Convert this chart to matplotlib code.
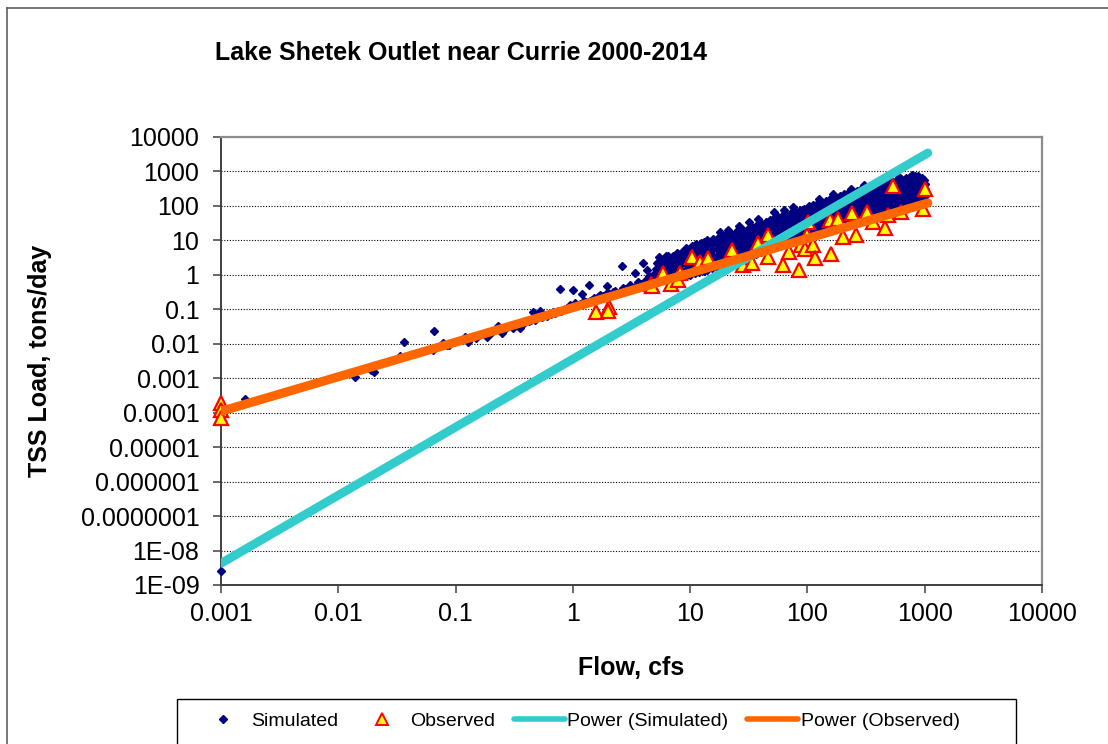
import numpy as np
import matplotlib
matplotlib.use("Agg")
from matplotlib import pyplot as plt
from matplotlib.lines import Line2D
from matplotlib.patches import Rectangle
from matplotlib.ticker import FixedLocator, FixedFormatter, NullLocator

plt.rcParams['font.family'] = ['Liberation Sans', 'DejaVu Sans']

title = "Lake Shetek Outlet near Currie 2000-2014"

# (flow cfs, TSS load tons/day)
simulated = [
    (0.001, 2.5e-9), (0.0016, 2.5e-4), (0.0139, 1.1e-3), (0.019, 1.7e-3), (0.020, 1.5e-3),
    (0.0336, 4.4e-3), (0.0365, 0.011), (0.064, 6.6e-3), (0.066, 0.024), (0.078, 0.0107),
    (0.084, 0.0095), (0.088, 0.0092), (0.12, 0.016), (0.128, 0.0113), (0.15, 0.015),
    (0.184, 0.016), (0.20, 0.021), (0.229, 0.032), (0.247, 0.0199), (0.26, 0.025),
    (0.31, 0.028), (0.33, 0.034), (0.355, 0.028), (0.36, 0.036), (0.38, 0.04),
    (0.42, 0.045), (0.44, 0.05), (0.46, 0.085), (0.48, 0.05), (0.52, 0.09),
    (0.55, 0.06), (0.57, 0.068), (0.60, 0.065), (0.62, 0.072), (0.65, 0.075),
    (0.68, 0.085), (0.70, 0.08), (0.75, 0.088), (0.78, 0.38), (0.80, 0.09),
    (0.85, 0.10), (0.90, 0.11), (0.95, 0.13), (1.0, 0.36), (1.0, 0.12),
    (1.05, 0.15), (1.1, 0.13), (1.15, 0.14), (1.2, 0.28), (1.25, 0.17),
    (1.3, 0.16), (1.37, 0.51), (1.4, 0.18), (1.45, 0.19), (1.5, 0.22),
    (1.6, 0.20), (1.65, 0.23), (1.7, 0.26), (1.8, 0.24), (1.9, 0.28),
    (1.94, 0.46), (2.0, 0.30), (2.1, 0.27), (2.2, 0.32), (2.3, 0.35),
    (2.4, 0.30), (2.5, 0.32), (2.6, 1.8), (2.7, 0.42), (2.8, 0.40),
    (2.9, 0.38), (3.1, 0.50), (3.2, 0.42), (3.4, 1.1), (3.4, 0.45),
    (3.6, 0.60), (3.8, 0.55), (3.94, 2.16), (4.0, 0.55), (4.2, 0.70),
    (4.3, 1.37), (4.4, 0.75), (4.5, 0.90), (4.6, 0.65), (4.8, 1.0),
    (5.0, 0.7), (5.0, 1.0), (5.1, 1.5), (5.2, 2.2),
    (5.5, 0.75), (5.5, 1.1), (5.5, 1.65), (5.6, 2.4), (5.4, 3.2),
    (5.9, 2.07), (6.0, 0.8), (6.0, 1.2), (6.1, 1.8), (6.0, 2.6), (6.2, 3.5),
    (6.5, 0.8), (6.5, 1.15), (6.6, 1.7), (6.4, 2.5), (6.5, 3.6),
    (7.0, 0.8), (7.0, 1.1), (7.1, 1.6), (6.9, 2.4), (7.2, 3.6), (7.7, 4.2),
    (7.7, 0.85), (7.7, 1.2), (7.8, 1.8), (7.6, 2.7), (7.7, 4.0),
    (8.5, 0.9), (8.5, 1.3), (8.4, 2.0), (8.6, 3.0), (8.5, 4.5),
    (9.2, 0.95), (9.2, 1.4), (9.3, 2.1), (9.1, 3.1), (9.2, 4.7), (9.3, 6.0),
    (10, 1.0), (10, 1.5), (10.2, 2.2), (9.8, 3.3), (10, 5.0), (10.3, 7.0),
    (11, 1.1), (11, 1.65), (11.1, 2.45), (10.9, 3.6), (11, 5.5), (11.2, 7.8),
    (11.7, 6.9), (12, 1.2), (12, 1.8), (12.2, 2.7), (11.8, 4.0), (12, 6.0), (12.3, 8.5),
    (13, 1.3), (13, 1.95), (13.2, 2.9), (12.8, 4.4), (13, 6.5), (13.2, 9.2),
    (14, 1.4), (14, 2.1), (14.2, 3.2), (13.8, 4.8), (14.3, 7.9), (14, 10),
    (15.5, 1.55), (15.5, 2.35), (15.7, 3.5), (15.3, 5.2), (15.5, 7.7), (15.8, 11),
    (17, 1.7), (17, 2.6), (17.2, 3.8), (16.8, 5.6), (17, 8.5), (17.3, 12),
    (18, 17), (18.5, 1.85), (18.5, 2.8), (18.8, 4.1), (18.2, 6.2), (18.5, 9.2), (18.8, 13),
    (20, 2.0), (20, 3.0), (20.3, 4.5), (19.7, 6.8), (20, 10), (20.4, 14),
    (21, 20), (22, 2.25), (22, 3.3), (22.3, 5.0), (21.7, 7.4), (22, 11), (22.4, 15.5),
    (24, 2.5), (24, 3.7), (24.3, 5.5), (23.7, 8.0), (24, 12), (24.5, 17),
    (26, 26), (26, 2.75), (26, 4.0), (26.4, 6.0), (25.6, 8.7), (26, 13), (26.5, 18.5),
    (28, 3.0), (28, 4.4), (28.4, 6.5), (27.6, 9.5), (28, 14), (28.5, 20),
    (30.5, 3.3), (30.5, 4.85), (31, 7.1), (30, 10.2), (30.5, 15.5), (31, 22),
    (32, 34), (33, 3.6), (33, 5.3), (33.5, 7.8), (32.5, 11), (33, 17), (33.6, 24),
    (36.5, 4.0), (36.5, 5.9), (37, 8.6), (36, 12.5), (36.5, 19), (37.2, 28),
    (38, 42), (40, 4.5), (40, 6.5), (40.5, 9.5), (39.5, 14), (40, 21), (40.6, 30),
    (43.5, 5.0), (43.5, 7.2), (44, 10.7), (43, 15.5), (43.5, 23.5), (44.2, 35),
    (47, 5.5), (47, 8.0), (47.6, 12), (46.4, 17), (47, 26), (47.7, 38),
    (51, 6.1), (51, 9.0), (51.7, 13), (50.3, 19), (51, 28.5), (51.8, 44),
    (52, 66), (55, 6.8), (55, 10), (55.7, 14), (54.3, 21), (55, 31), (55.8, 48),
    (60, 7.6), (60, 11), (60.8, 16), (59.2, 23.5), (60, 34.5), (61, 52),
    (63, 78), (65, 8.5), (65, 12), (65.8, 18), (64.2, 26), (65, 38), (66, 56),
    (71, 9.2), (71, 13.5), (72, 20), (70, 29), (71, 42.5), (72, 63),
    (75, 92), (78, 10), (78, 15), (79, 22), (77, 32), (78, 47), (79, 68),
    (85, 11.5), (85, 17), (86, 24.5), (84, 35.5), (85, 52), (86, 77),
    (92, 13), (92, 19), (93, 27), (91, 39), (92, 57), (93, 82),
    (101, 14.5), (101, 21), (102, 30), (100, 43.5), (101, 63.5), (103, 97),
    (110, 16), (110, 23), (111, 33), (109, 48), (110, 70), (112, 105),
    (120, 18), (120, 25.5), (122, 36.5), (118, 53), (120, 77.5), (122, 118),
    (125, 160), (130, 20), (130, 28), (132, 40), (128, 58), (130, 85), (132, 125),
    (142, 22.5), (142, 31.5), (144, 45), (140, 65), (142, 95), (144, 142),
    (155, 25), (155, 35), (157, 50), (153, 72), (155, 105), (157, 155),
    (165, 215), (170, 27.5), (170, 39), (172, 55), (168, 80), (170, 118), (173, 178),
    (185, 30), (185, 43), (187, 60), (183, 88), (185, 130), (188, 190),
    (202, 34), (202, 48), (205, 67.5), (199, 96), (202, 142), (205, 215),
    (220, 38), (220, 53), (223, 75), (217, 105), (220, 155), (223, 230),
    (235, 310), (240, 41.5), (240, 58), (243, 82), (237, 117), (240, 172), (244, 255),
    (260, 45), (260, 63), (263, 90), (257, 130), (260, 190), (264, 270),
    (285, 50), (285, 70), (289, 100), (281, 142), (285, 210), (289, 300),
    (305, 400), (310, 55), (310, 78), (314, 110), (306, 155), (310, 230), (314, 320),
    (340, 60), (340, 86), (345, 120), (335, 170), (340, 250), (345, 360),
    (370, 65), (370, 95), (375, 130), (365, 185), (370, 270), (375, 390),
    (405, 72), (405, 105), (411, 145), (399, 202), (405, 295), (411, 435),
    (440, 80), (440, 115), (446, 160), (434, 220), (440, 320), (446, 450),
    (460, 560), (480, 87), (480, 125), (487, 175), (473, 240), (480, 350), (487, 495),
    (520, 95), (520, 135), (527, 190), (513, 260), (520, 380), (527, 520),
    (570, 102), (570, 147), (578, 205), (562, 285), (570, 410), (578, 570),
    (600, 690), (620, 110), (620, 160), (628, 220), (612, 310), (620, 440), (628, 600),
    (680, 120), (680, 172), (690, 240), (670, 335), (680, 475), (690, 650),
    (740, 130), (740, 185), (750, 260), (730, 360), (740, 510), (750, 680),
    (780, 790), (810, 140), (810, 197), (820, 280), (800, 390), (810, 545), (820, 740),
    (880, 150), (880, 210), (890, 300), (870, 420), (880, 580), (870, 730),
    (940, 175), (940, 255), (950, 365), (930, 490), (940, 650),
    (1000, 200), (1000, 300), (1010, 430), (990, 560),
]

observed = [
    (0.001, 1.9e-4), (0.001, 1.2e-4), (0.001, 7e-5),
    (1.57, 0.085), (2.04, 0.114), (2.0, 0.09),
    (4.67, 0.54), (4.7, 0.46), (5.9, 1.1), (6.84, 0.54), (7.9, 0.71), (8.2, 1.1),
    (10.3, 3.36), (12.2, 2.3), (14.1, 3.0),
    (22.9, 5.3), (28.2, 1.93), (33.5, 2.2), (37.7, 8.2),
    (45.7, 14.3), (45.7, 3.36), (62.4, 1.93), (69, 4.7), (84, 1.35), (89, 7.35),
    (95, 5.8), (99, 14.3), (101, 35), (112, 7.35), (117, 3.0),
    (157, 39), (160, 4.1), (183, 43), (200, 12.8), (241, 61), (260, 14.3),
    (324, 68), (365, 35), (460, 22.4), (490, 54), (540, 380), (630, 68),
    (970, 79), (1000, 300),
]

# power trendlines, load = a * flow ** b
sim_power = (0.0036, 1.976)
obs_power = (0.112, 1.003)
trend_range = (0.001, 1064)

x_ticks = [0.001, 0.01, 0.1, 1, 10, 100, 1000, 10000]
x_tick_labels = ["0.001", "0.01", "0.1", "1", "10", "100", "1000", "10000"]
y_ticks = [1e-9, 1e-8, 1e-7, 1e-6, 1e-5, 1e-4, 1e-3, 1e-2, 1e-1, 1, 10, 100, 1000, 10000]
y_tick_labels = ["1E-09", "1E-08", "0.0000001", "0.000001", "0.00001", "0.0001",
                 "0.001", "0.01", "0.1", "1", "10", "100", "1000", "10000"]

navy = "#000080"
cyan = "#33CCCC"
orange = "#FF6600"

W, H = 1108, 744
fig = plt.figure(figsize=(W / 100, H / 100), dpi=100)
ax = fig.add_axes([221 / W, 1 - 585 / H, (1042 - 221) / W, (585 - 137) / H])

sx, sy = zip(*simulated)
ax.plot(sx, sy, ls="none", marker="D", ms=4.3, color=navy, mec=navy, clip_on=False, zorder=3)
ox, oy = zip(*observed)
ax.plot(ox, oy, ls="none", marker="^", ms=10, mfc="#FFFF00", mec="#FF0000", mew=1.6,
        clip_on=False, zorder=4)

xs = np.geomspace(trend_range[0], trend_range[1], 200)
ax.plot(xs, sim_power[0] * xs ** sim_power[1], color=cyan, lw=6.3, solid_capstyle="round", zorder=5)
ax.plot(xs, obs_power[0] * xs ** obs_power[1], color=orange, lw=6.5, solid_capstyle="round", zorder=6)

ax.set_xscale("log")
ax.set_yscale("log")
ax.set_xlim(1e-3, 1e4)
ax.set_ylim(1e-9, 1e4)
ax.xaxis.set_major_locator(FixedLocator(x_ticks))
ax.xaxis.set_major_formatter(FixedFormatter(x_tick_labels))
ax.yaxis.set_major_locator(FixedLocator(y_ticks))
ax.yaxis.set_major_formatter(FixedFormatter(y_tick_labels))
ax.xaxis.set_minor_locator(NullLocator())
ax.yaxis.set_minor_locator(NullLocator())
ax.tick_params(axis="both", which="major", direction="out", length=5.5, width=1.1,
               color="#404040", labelsize=18, labelcolor="black")
ax.tick_params(axis="x", pad=7)
ax.tick_params(axis="y", pad=10)

ax.yaxis.grid(True, color="black", lw=0.8, ls=(0, (1, 1.5)))
ax.set_axisbelow(True)

for side in ("left", "bottom"):
    ax.spines[side].set_color("#404040")
    ax.spines[side].set_linewidth(1.4)
for side in ("top", "right"):
    ax.spines[side].set_color("#8C8C8C")
    ax.spines[side].set_linewidth(1.6)

fig.text(215 / W, 1 - 53 / H, title, fontsize=18, fontweight="bold", ha="left", va="center")
fig.text(631.5 / W, 1 - 668 / H, "Flow, cfs", fontsize=18, fontweight="bold", ha="center", va="center")
fig.text(40 / W, 1 - 361 / H, "TSS Load, tons/day", fontsize=18, fontweight="bold",
         rotation=90, ha="center", va="center")

# outer chart border
fig.add_artist(Line2D([7 / W, 7 / W], [-0.01, 1 - 8 / H], transform=fig.transFigure, color="#606060", lw=1.2))
fig.add_artist(Line2D([7 / W, 1.01], [1 - 8 / H, 1 - 8 / H], transform=fig.transFigure, color="#606060", lw=1.2))

# legend box
fig.add_artist(Rectangle((177 / W, -0.01), (1016 - 177) / W, 0.01 + 1 - 699 / H,
                         transform=fig.transFigure, fill=False, ec="black", lw=1.0))
handles = [
    Line2D([], [], ls="none", marker="D", ms=3.6, color=navy),
    Line2D([], [], ls="none", marker="^", ms=8, mfc="#FFFF00", mec="#FF0000", mew=1.4),
    Line2D([], [], color=cyan, lw=4, solid_capstyle="round"),
    Line2D([], [], color=orange, lw=4, solid_capstyle="round"),
]
labels = ["Simulated", "Observed", "Power (Simulated)", "Power (Observed)"]
fig.legend(handles, labels, loc="center left", bbox_to_anchor=(198 / W, 1 - 721 / H), ncol=4,
           frameon=False, fontsize=14, handlelength=2.6, handletextpad=0.15, columnspacing=0.95,
           borderaxespad=0, borderpad=0)

fig.savefig("out.png", dpi=100)
